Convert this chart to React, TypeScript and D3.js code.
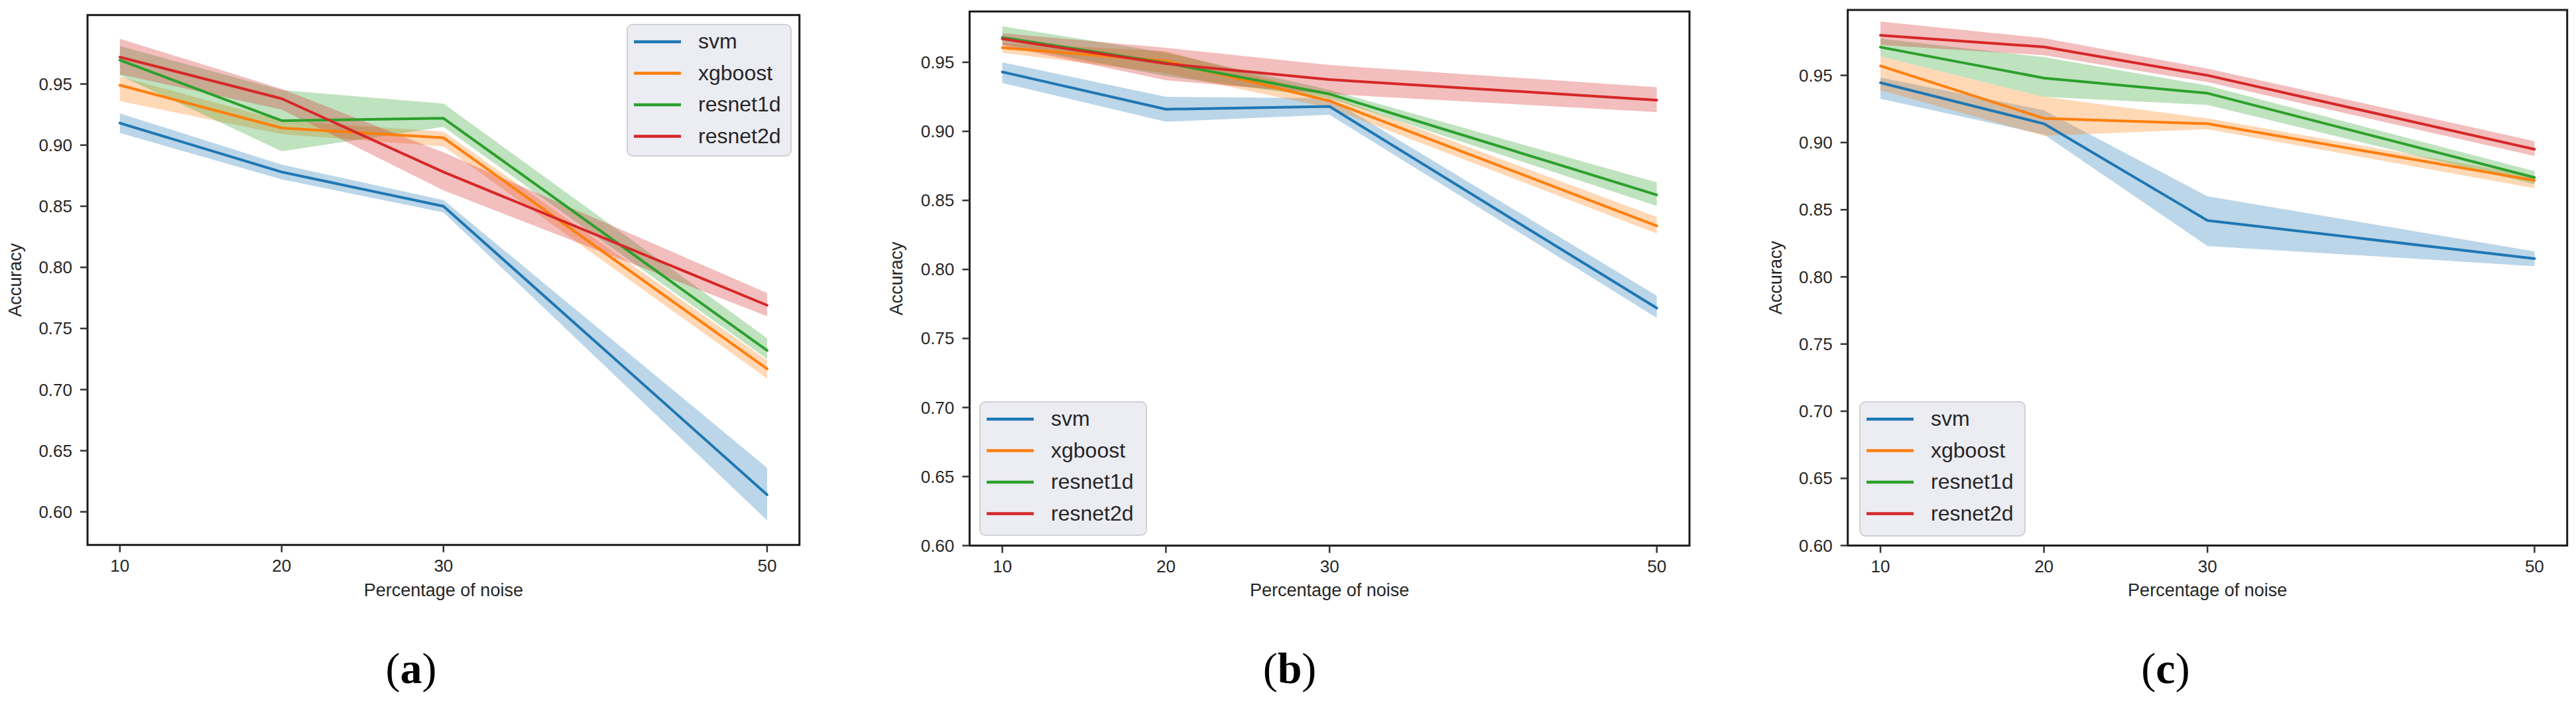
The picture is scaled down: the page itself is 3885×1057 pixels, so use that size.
import React from 'react';
import * as d3 from 'd3';

// ---------- data ----------
const noiseLevels = [10, 20, 30, 50];
const modelNames = ['svm', 'xgboost', 'resnet1d', 'resnet2d'];
const modelColors = ['#1f77b4', '#ff7f0e', '#2ca02c', '#d62728'];
const yTickValues = [0.6, 0.65, 0.7, 0.75, 0.8, 0.85, 0.9, 0.95];
const xTickValues = [10, 20, 30, 50];
const panelLetters = ['a', 'b', 'c'];

// panel (a)
const meanA = [
  [0.918, 0.878, 0.85, 0.614],
  [0.949, 0.914, 0.906, 0.717],
  [0.9695, 0.92, 0.922, 0.732],
  [0.972, 0.938, 0.878, 0.769],
];
const lowA = [
  [0.91, 0.872, 0.845, 0.593],
  [0.936, 0.909, 0.899, 0.709],
  [0.957, 0.895, 0.915, 0.725],
  [0.958, 0.929, 0.863, 0.76],
];
const highA = [
  [0.926, 0.884, 0.855, 0.636],
  [0.956, 0.92, 0.911, 0.724],
  [0.981, 0.945, 0.934, 0.742],
  [0.987, 0.946, 0.894, 0.779],
];

// panel (b)
const meanB = [
  [0.943, 0.916, 0.918, 0.772],
  [0.9605, 0.951, 0.922, 0.8315],
  [0.968, 0.9495, 0.927, 0.854],
  [0.967, 0.949, 0.9375, 0.9226],
];
const lowB = [
  [0.935, 0.907, 0.912, 0.765],
  [0.957, 0.942, 0.917, 0.826],
  [0.963, 0.94, 0.924, 0.846],
  [0.962, 0.937, 0.927, 0.914],
];
const highB = [
  [0.95, 0.925, 0.924, 0.781],
  [0.964, 0.958, 0.926, 0.838],
  [0.976, 0.957, 0.93, 0.863],
  [0.971, 0.9605, 0.948, 0.932],
];

// panel (c)
const meanC = [
  [0.9445, 0.914, 0.842, 0.8136],
  [0.957, 0.918, 0.914, 0.8718],
  [0.971, 0.948, 0.9367, 0.874],
  [0.9798, 0.9712, 0.95, 0.895],
];
const lowC = [
  [0.9326, 0.906, 0.823, 0.808],
  [0.939, 0.905, 0.91, 0.866],
  [0.9642, 0.934, 0.928, 0.869],
  [0.9726, 0.965, 0.945, 0.89],
];
const highC = [
  [0.9484, 0.924, 0.86, 0.819],
  [0.9642, 0.934, 0.918, 0.875],
  [0.9773, 0.9636, 0.9424, 0.8787],
  [0.99, 0.9777, 0.955, 0.901],
];

// ---------- layout ----------
const panels = [
  {
    mean: meanA, low: lowA, high: highA,
    left: 132, right: 1205.7, top: 22.7, bottom: 821.7,
    yDomain: [0.5729, 1.0064],
    legend: { x: 946, y: 37, w: 247, h: 198 },
    yLabelX: 23, captionX: 620,
  },
  {
    mean: meanB, low: lowB, high: highB,
    left: 1462.3, right: 2548, top: 17.3, bottom: 822.7,
    yDomain: [0.6, 0.9868],
    legend: { x: 1478, y: 606, w: 251, h: 201 },
    yLabelX: 1352, captionX: 1945,
  },
  {
    mean: meanC, low: lowC, high: highC,
    left: 2786.7, right: 3871.7, top: 15, bottom: 822.6,
    yDomain: [0.6, 0.9987],
    legend: { x: 2805, y: 606, w: 249, h: 202 },
    yLabelX: 2678, captionX: 3266,
  },
];

const SANS = '"Liberation Sans", Arial, Helvetica, sans-serif';
const SERIF = '"Liberation Serif", "Times New Roman", serif';
const TEXT = '#262626';

function Panel({ p, idx }: { p: any; idx: number }) {
  const x = d3.scaleLinear().domain([8, 52]).range([p.left, p.right]);
  const y = d3.scaleLinear().domain(p.yDomain).range([p.bottom, p.top]);
  const area = d3
    .area<number>()
    .x((_, i) => x(noiseLevels[i]))
    .y0((_, i) => 0)
    .y1((_, i) => 0);
  const line = d3
    .line<number>()
    .x((_, i) => x(noiseLevels[i]))
    .y((d) => y(d));

  const bands = modelNames.map((_, m) => {
    const a = d3
      .area<number>()
      .x((_, i) => x(noiseLevels[i]))
      .y0((_, i) => y(p.low[m][i]))
      .y1((_, i) => y(p.high[m][i]));
    return a(noiseLevels as any) as string;
  });
  void area;

  const cx = (p.left + p.right) / 2;
  const cy = (p.top + p.bottom) / 2;
  const lg = p.legend;

  return (
    <g>
      {/* bands */}
      {bands.map((d, m) => (
        <path key={'b' + m} d={d} fill={modelColors[m]} fillOpacity={0.3} stroke="none" />
      ))}
      {/* lines */}
      {p.mean.map((vals: number[], m: number) => (
        <path
          key={'l' + m}
          d={line(vals) as string}
          fill="none"
          stroke={modelColors[m]}
          strokeWidth={4}
          strokeLinejoin="round"
          strokeLinecap="round"
        />
      ))}
      {/* frame */}
      <rect
        x={p.left}
        y={p.top}
        width={p.right - p.left}
        height={p.bottom - p.top}
        fill="none"
        stroke="#1a1a1a"
        strokeWidth={3}
      />
      {/* y ticks */}
      {yTickValues.map((v) => (
        <g key={'yt' + v}>
          <line x1={p.left - 11} x2={p.left} y1={y(v)} y2={y(v)} stroke="#333" strokeWidth={2.5} />
          <text
            x={p.left - 23}
            y={y(v)}
            dy="0.35em"
            textAnchor="end"
            fontFamily={SANS}
            fontSize={26}
            fill={TEXT}
          >
            {v.toFixed(2)}
          </text>
        </g>
      ))}
      {/* x ticks */}
      {xTickValues.map((v) => (
        <g key={'xt' + v}>
          <line x1={x(v)} x2={x(v)} y1={p.bottom} y2={p.bottom + 11} stroke="#333" strokeWidth={2.5} />
          <text
            x={x(v)}
            y={p.bottom + 40}
            textAnchor="middle"
            fontFamily={SANS}
            fontSize={26}
            fill={TEXT}
          >
            {v}
          </text>
        </g>
      ))}
      {/* axis labels */}
      <text x={cx} y={899} textAnchor="middle" fontFamily={SANS} fontSize={27} fill={TEXT}>
        Percentage of noise
      </text>
      <text
        transform={`translate(${p.yLabelX},${cy}) rotate(-90)`}
        textAnchor="middle"
        dy="0.35em"
        fontFamily={SANS}
        fontSize={27}
        fill={TEXT}
      >
        Accuracy
      </text>
      {/* legend */}
      <rect
        x={lg.x}
        y={lg.y}
        width={lg.w}
        height={lg.h}
        rx={8}
        ry={8}
        fill="#ececf3"
        stroke="#d0d0d6"
        strokeWidth={2}
      />
      {modelNames.map((name, m) => {
        const ry = lg.y + 26 + m * 47.5;
        return (
          <g key={'lg' + m}>
            <line
              x1={lg.x + 10}
              x2={lg.x + 81}
              y1={ry}
              y2={ry}
              stroke={modelColors[m]}
              strokeWidth={4.5}
            />
            <text
              x={lg.x + 107}
              y={ry}
              dy="0.32em"
              fontFamily={SANS}
              fontSize={32}
              fill={TEXT}
            >
              {name}
            </text>
          </g>
        );
      })}
      {/* caption */}
      <text x={p.captionX} y={1030} textAnchor="middle" fontFamily={SERIF} fontSize={66} fill="#000">
        (<tspan fontWeight="bold">{panelLetters[idx]}</tspan>)
      </text>
    </g>
  );
}

export default function App() {
  return (
    <svg
      width={3885}
      height={1057}
      style={{ position: 'absolute', left: 0, top: 0, background: '#fff' }}
    >
      <rect x={0} y={0} width={3885} height={1057} fill="#fff" />
      {panels.map((p, i) => (
        <Panel key={i} p={p} idx={i} />
      ))}
    </svg>
  );
}
